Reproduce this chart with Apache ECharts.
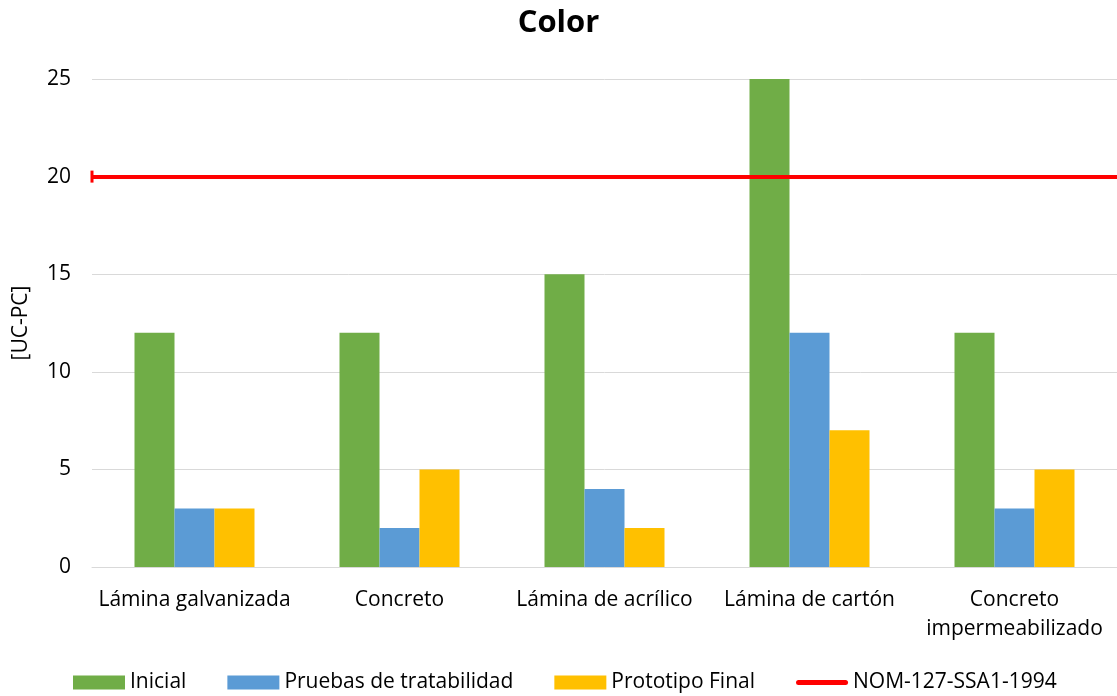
<!DOCTYPE html>
<html>
<head>
<meta charset="utf-8">
<script src="https://cdn.jsdelivr.net/npm/echarts@6/dist/echarts.min.js"></script>
<style>
  html, body { margin: 0; padding: 0; background: #fff; }
  #main { width: 1117px; height: 696px; }
</style>
</head>
<body>
<div id="main"></div>
<script>
var categories = ['Lámina galvanizada', 'Concreto', 'Lámina de acrílico', 'Lámina de cartón', 'Concreto\nimpermeabilizado'];
var inicial = [12, 12, 15, 25, 12];
var pruebas = [3, 2, 4, 12, 3];
var prototipo = [3, 5, 2, 7, 5];
var nomLimit = 20;

var font = '"Open Sans", "Noto Sans", sans-serif';

var myChart = echarts.init(document.getElementById('main'));
var option = {
    title: {
        text: 'Color',
        left: 'center',
        top: 3,
        textStyle: { fontFamily: font, fontSize: 31, fontWeight: 'bold', color: '#000' }
    },
    legend: {
        bottom: -2,
        left: 68,
        itemWidth: 52,
        itemHeight: 14,
        itemGap: 41,
        textStyle: { fontFamily: font, fontSize: 21, color: '#000' },
        data: [
            { name: 'Inicial', icon: 'rect' },
            { name: 'Pruebas de tratabilidad', icon: 'rect' },
            { name: 'Prototipo Final', icon: 'rect' },
            { name: 'NOM-127-SSA1-1994', icon: 'path://M0,0 L0,0 M0,14 L0,14 M2.5,4.5 L49.5,4.5 A2.5,2.5 0 0 1 49.5,9.5 L2.5,9.5 A2.5,2.5 0 0 1 2.5,4.5 Z' }
        ]
    },
    grid: { left: 92, right: 0, top: 79, bottom: 129 },
    xAxis: {
        type: 'category',
        data: categories,
        axisTick: { show: false },
        axisLine: { lineStyle: { color: '#d9d9d9', width: 1 } },
        axisLabel: { interval: 0, fontFamily: font, fontSize: 21, color: '#000', margin: 19, lineHeight: 29 }
    },
    yAxis: {
        type: 'value',
        min: 0,
        max: 25,
        interval: 5,
        name: '[UC-PC]',
        nameLocation: 'middle',
        nameGap: 60,
        nameTextStyle: { fontFamily: font, fontSize: 21, color: '#000' },
        axisLine: { show: false },
        axisTick: { show: false },
        axisLabel: { fontFamily: font, fontSize: 21, color: '#000', margin: 21 },
        splitLine: { lineStyle: { color: '#d9d9d9', width: 1 } }
    },
    series: [
        {
            name: 'Inicial', type: 'bar', data: inicial, barWidth: 40, barGap: '0%',
            itemStyle: { color: '#70AD47' }
        },
        {
            name: 'Pruebas de tratabilidad', type: 'bar', data: pruebas, barWidth: 40, barGap: '0%',
            itemStyle: { color: '#5B9BD5' }
        },
        {
            name: 'Prototipo Final', type: 'bar', data: prototipo, barWidth: 40, barGap: '0%',
            itemStyle: { color: '#FFC000' }
        },
        {
            name: 'NOM-127-SSA1-1994', type: 'line', data: [],
            symbol: 'none',
            itemStyle: { color: '#FF0000' },
            lineStyle: { color: '#FF0000', width: 5 },
            markLine: {
                silent: true,
                symbol: ['rect', 'none'],
                symbolSize: [12, 3],
                label: { show: false },
                lineStyle: { color: '#FF0000', width: 4, type: 'solid' },
                data: [{ yAxis: nomLimit }]
            }
        }
    ]
};
myChart.setOption(option);
</script>
</body>
</html>
